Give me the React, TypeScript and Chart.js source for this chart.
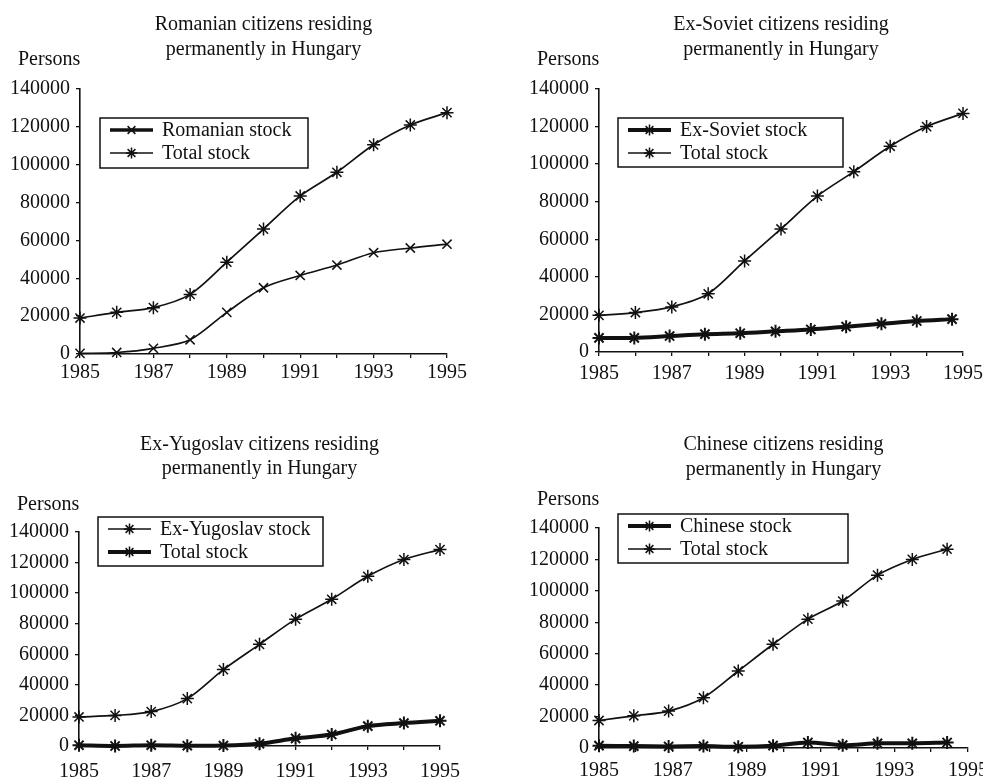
import React, { useEffect, useRef } from 'react';
import { Chart, registerables } from 'chart.js';

Chart.register(...registerables);

const FONT = "'Liberation Serif', 'Times New Roman', serif";
const INK = '#111111';

// ---------- data ----------
const years = [1985, 1986, 1987, 1988, 1989, 1990, 1991, 1992, 1993, 1994, 1995];
const xTickLabels = ['1985', '1987', '1989', '1991', '1993', '1995'];
const yTickLabels = ['0', '20000', '40000', '60000', '80000', '100000', '120000', '140000'];

const romanianStock = [300, 800, 3000, 7500, 22000, 35000, 41500, 47000, 53500, 56000, 58000];
const romanianPanelTotal = [19000, 22000, 24500, 31500, 48500, 66000, 83500, 96000, 110500, 121000, 127500];

const sovietStock = [7500, 7500, 8500, 9500, 10000, 11000, 12000, 13500, 15000, 16500, 17500];
const sovietPanelTotal = [19500, 21000, 24000, 31000, 48500, 65500, 83000, 96000, 109500, 120000, 127000];

const yugoslavThinSeries = [19000, 20000, 22500, 31000, 50000, 66500, 83000, 96000, 111000, 122000, 128500];
const yugoslavThickSeries = [500, 0, 500, 200, 300, 1500, 5000, 7500, 13000, 15000, 16500];

const chineseStock = [1500, 1200, 1000, 1200, 800, 1500, 3500, 1800, 3000, 3000, 3500];
const chinesePanelTotal = [17500, 20500, 23500, 32000, 49000, 66000, 82000, 93500, 110000, 120000, 126500];

// ---------- styling / layout ----------
type Series = {
  label: string;
  values: number[];
  lineWidth: number;
  legendLineWidth: number;
  pointStyle: string;
  axis: 'x' | 'x2';
};

type PanelSpec = {
  title: string[];
  left: number;
  top: number;
  width: number;
  height: number;
  yAxisWidth: number;
  xAxisHeight: number;
  padRight: number;
  titlePadTop: number;
  titleLineHeight: number;
  titlePadBottom: number;
  labelPad: number;
  legend: { dx: number; dy: number; w: number; h: number };
  persons: { dx: number; dy: number };
  x2Max?: number;
  series: Series[];
};

const panels: PanelSpec[] = [
  {
    title: ['Romanian citizens residing', 'permanently in Hungary'],
    left: 0, top: 0, width: 480, height: 390,
    yAxisWidth: 80, xAxisHeight: 36, padRight: 33,
    titlePadTop: 12.5, titleLineHeight: 25, titlePadBottom: 26.5,
    labelPad: 4.4,
    legend: { dx: 20, dy: 29, w: 208, h: 50 },
    persons: { dx: -62, dy: -29 },
    series: [
      { label: 'Romanian stock', values: romanianStock, lineWidth: 1.7, legendLineWidth: 3.5, pointStyle: 'crossRot', axis: 'x' },
      { label: 'Total stock', values: romanianPanelTotal, lineWidth: 1.7, legendLineWidth: 1.7, pointStyle: 'star', axis: 'x' },
    ],
  },
  {
    title: ['Ex-Soviet citizens residing', 'permanently in Hungary'],
    left: 500, top: 0, width: 500, height: 390,
    yAxisWidth: 99, xAxisHeight: 38, padRight: 37,
    titlePadTop: 12.5, titleLineHeight: 25, titlePadBottom: 26.5,
    labelPad: 7.4,
    legend: { dx: 19, dy: 29, w: 225, h: 49 },
    persons: { dx: -62, dy: -29 },
    x2Max: 1995.31,
    series: [
      { label: 'Ex-Soviet stock', values: sovietStock, lineWidth: 4, legendLineWidth: 4, pointStyle: 'star', axis: 'x2' },
      { label: 'Total stock', values: sovietPanelTotal, lineWidth: 1.7, legendLineWidth: 1.7, pointStyle: 'star', axis: 'x' },
    ],
  },
  {
    title: ['Ex-Yugoslav citizens residing', 'permanently in Hungary'],
    left: 0, top: 400, width: 480, height: 379,
    yAxisWidth: 79, xAxisHeight: 33, padRight: 40,
    titlePadTop: 33.25, titleLineHeight: 23.5, titlePadBottom: 51.75,
    labelPad: 11.4,
    legend: { dx: 19, dy: -15, w: 225, h: 49 },
    persons: { dx: -62, dy: -27 },
    series: [
      { label: 'Ex-Yugoslav stock', values: yugoslavThinSeries, lineWidth: 1.7, legendLineWidth: 1.7, pointStyle: 'star', axis: 'x' },
      { label: 'Total stock', values: yugoslavThickSeries, lineWidth: 4, legendLineWidth: 4, pointStyle: 'star', axis: 'x' },
    ],
  },
  {
    title: ['Chinese citizens residing', 'permanently in Hungary'],
    left: 500, top: 400, width: 500, height: 379,
    yAxisWidth: 99, xAxisHeight: 31, padRight: 32,
    titlePadTop: 32.5, titleLineHeight: 25, titlePadBottom: 45.5,
    labelPad: 8.4,
    legend: { dx: 19, dy: -14, w: 230, h: 49 },
    persons: { dx: -62, dy: -28 },
    x2Max: 1995.6,
    series: [
      { label: 'Chinese stock', values: chineseStock, lineWidth: 4, legendLineWidth: 4, pointStyle: 'star', axis: 'x2' },
      { label: 'Total stock', values: chinesePanelTotal, lineWidth: 1.7, legendLineWidth: 1.7, pointStyle: 'star', axis: 'x2' },
    ],
  },
];

function drawMarker(ctx: CanvasRenderingContext2D, style: string, x: number, y: number, r: number, lw: number) {
  ctx.save();
  ctx.strokeStyle = INK;
  ctx.lineWidth = lw;
  ctx.beginPath();
  const d = r * Math.SQRT1_2;
  if (style === 'star') {
    ctx.moveTo(x, y - r); ctx.lineTo(x, y + r);
    ctx.moveTo(x - r, y); ctx.lineTo(x + r, y);
  }
  ctx.moveTo(x - d, y - d); ctx.lineTo(x + d, y + d);
  ctx.moveTo(x - d, y + d); ctx.lineTo(x + d, y - d);
  ctx.stroke();
  ctx.restore();
}

function makePanelPlugin(spec: PanelSpec) {
  return {
    id: 'panelExtras',
    afterDraw(chart: any) {
      const ctx: CanvasRenderingContext2D = chart.ctx;
      const area = chart.chartArea;
      ctx.save();
      ctx.fillStyle = INK;
      ctx.font = `20px ${FONT}`;
      ctx.textAlign = 'left';
      ctx.textBaseline = 'middle';
      ctx.fillText('Persons', area.left + spec.persons.dx, area.top + spec.persons.dy);

      const bx = area.left + spec.legend.dx;
      const by = area.top + spec.legend.dy;
      ctx.fillStyle = '#ffffff';
      ctx.fillRect(bx, by, spec.legend.w, spec.legend.h);
      ctx.strokeStyle = INK;
      ctx.lineWidth = 1.5;
      ctx.strokeRect(bx, by, spec.legend.w, spec.legend.h);

      spec.series.forEach((s, i) => {
        const cy = by + 12 + i * 23;
        ctx.beginPath();
        ctx.strokeStyle = INK;
        ctx.lineWidth = s.legendLineWidth;
        ctx.moveTo(bx + 10, cy);
        ctx.lineTo(bx + 53, cy);
        ctx.stroke();
        drawMarker(ctx, s.pointStyle, bx + 31.5, cy, 5.5, 1.5);
        ctx.fillStyle = INK;
        ctx.font = `20px ${FONT}`;
        ctx.textAlign = 'left';
        ctx.textBaseline = 'middle';
        ctx.fillText(s.label, bx + 62, cy + 1);
      });
      ctx.restore();
    },
  };
}

function Panel({ spec }: { spec: PanelSpec }) {
  const ref = useRef<HTMLCanvasElement | null>(null);

  useEffect(() => {
    if (!ref.current) return;
    const datasets = spec.series.map((s) => ({
      label: s.label,
      data: years.map((yr, i) => ({ x: yr, y: s.values[i] })),
      xAxisID: s.axis,
      borderColor: INK,
      borderWidth: s.lineWidth,
      pointStyle: s.pointStyle,
      pointRadius: 6.5,
      pointBorderWidth: s.lineWidth > 2 ? 2 : 1.5,
      pointBorderColor: INK,
      pointBackgroundColor: 'rgba(0,0,0,0)',
      tension: 0.3,
      fill: false,
      clip: false,
    }));

    const scales: any = {
      x: {
        type: 'linear',
        position: 'bottom',
        min: 1985,
        max: 1995,
        afterFit: (s: any) => { s.height = spec.xAxisHeight; },
        ticks: {
          stepSize: 1,
          autoSkip: false,
          maxRotation: 0,
          padding: spec.labelPad,
          color: INK,
          font: { family: FONT, size: 20, lineHeight: 1 },
          callback: (v: any) => (xTickLabels.includes(String(v)) ? String(v) : ''),
        },
        grid: { display: true, drawOnChartArea: false, drawTicks: true, tickLength: 4, color: INK, lineWidth: 1.3 },
        border: { display: true, color: INK, width: 1.6 },
      },
      y: {
        type: 'linear',
        min: 0,
        max: 140000,
        afterFit: (s: any) => { s.width = spec.yAxisWidth; },
        ticks: {
          stepSize: 20000,
          padding: 6,
          color: INK,
          font: { family: FONT, size: 20, lineHeight: 1 },
          callback: (_v: any, idx: number) => yTickLabels[idx],
        },
        grid: { display: true, drawOnChartArea: false, drawTicks: true, tickLength: 4, color: INK, lineWidth: 1.3 },
        border: { display: true, color: INK, width: 1.6 },
      },
    };
    if (spec.x2Max) {
      scales.x2 = { type: 'linear', display: false, min: 1985, max: spec.x2Max };
    }

    const chart = new Chart(ref.current, {
      type: 'line',
      data: { datasets },
      options: {
        responsive: false,
        animation: false,
        devicePixelRatio: 1,
        layout: { padding: { left: 0, right: spec.padRight, top: 0, bottom: 0 } },
        scales,
        plugins: {
          legend: { display: false },
          tooltip: { enabled: false },
          title: {
            display: true,
            fullSize: false,
            align: 'center',
            text: spec.title,
            color: INK,
            font: { family: FONT, size: 20, weight: 'normal', lineHeight: `${spec.titleLineHeight}px` },
            padding: { top: spec.titlePadTop, bottom: spec.titlePadBottom },
          },
        },
      } as any,
      plugins: [makePanelPlugin(spec)],
    });
    return () => chart.destroy();
  }, [spec]);

  return (
    <canvas
      ref={ref}
      width={spec.width}
      height={spec.height}
      style={{ position: 'absolute', left: spec.left, top: spec.top, width: spec.width, height: spec.height }}
    />
  );
}

export default function App() {
  return (
    <div
      style={{
        position: 'absolute',
        left: 0,
        top: 0,
        width: 983,
        height: 779,
        overflow: 'hidden',
        background: '#ffffff',
      }}
    >
      {panels.map((p, i) => (
        <Panel key={i} spec={p} />
      ))}
    </div>
  );
}
